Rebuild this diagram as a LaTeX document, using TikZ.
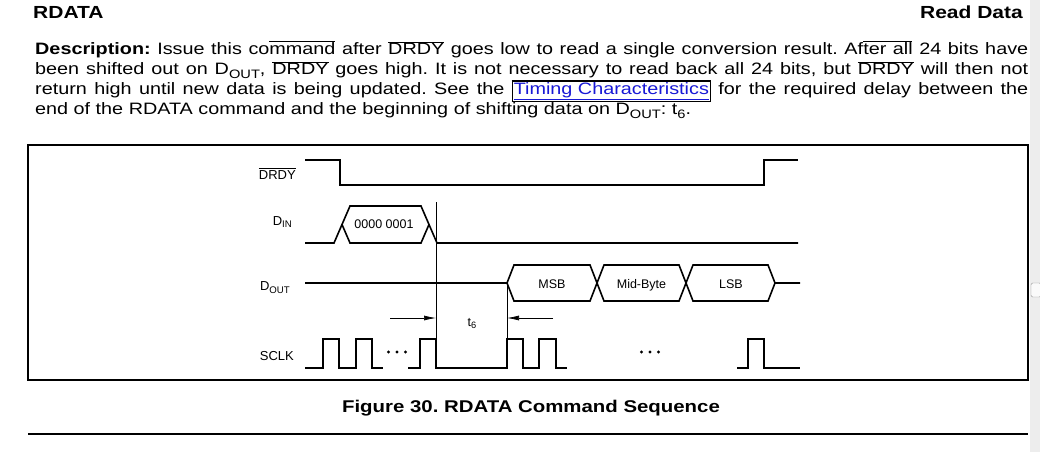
\documentclass[tikz,border=0pt]{standalone}
\usepackage{fontspec}
\setmainfont{Liberation Sans}
\newfontfamily\widesans[FakeStretch=1.2]{Liberation Sans}
\usepackage{tikz}
\usetikzlibrary{arrows.meta}
\definecolor{linkblue}{RGB}{24,24,214}
\frenchspacing
\newcommand\drdy{$\overline{\mbox{DRDY}}$}
\newcommand\lowsub[1]{\raisebox{-0.22em}{\scalebox{0.74}{#1}}}
\newlength\artw
\newcommand\artline[1]{\settowidth\artw{#1}\rlap{\rule[12.4pt]{\artw}{0.7pt}}#1}
\def\tdots(#1,#2){\fill ({#1-8.5},#2) circle (1.7); \fill (#1,#2) circle (1.7); \fill ({#1+8.5},#2) circle (1.7);}

\begin{document}
\begin{tikzpicture}[x=1pt, y=-1pt,
		sig/.style={line width=1.6pt},
		guide/.style={line width=0.6pt},
		tarrow/.style={line width=0.7pt, -{Latex[length=12pt,width=5pt]}},
		lbl/.style={anchor=base east, inner sep=0pt, font=\fontsize{13}{15}\selectfont},
		txt/.style={anchor=base, inner sep=0pt, font=\fontsize{12.5}{15}\selectfont},
		para/.style={anchor=base west, inner sep=0pt, font=\widesans\fontsize{16.5}{20}\selectfont}]
			%%%%% START %%%%%
			\useasboundingbox (0,0) rectangle (1040,452);
			\fill[white] (0,0) rectangle (1030,452);
			
			% heading
			\node[anchor=base west, inner sep=0pt, font=\widesans\bfseries\fontsize{17.5}{20}\selectfont] (head) at (33,18.3) {RDATA};
			\node[anchor=base east, inner sep=0pt, font=\widesans\bfseries\fontsize{17.5}{20}\selectfont] (headr) at (1023,18.3) {Read Data};
			
			% description
			\node[para] (desc1) at (35,54.5) {\makebox[993pt][s]{\textbf{Description:} Issue this co\artline{mmand} after \drdy{} goes low to read a single conversion result. Af\artline{ter all} 24 bits have}};
			\node[para] (desc2) at (35,74.5) {\makebox[993pt][s]{been shifted out on D\lowsub{OUT}, \drdy{} goes high. It is not necessary to read back all 24 bits, but \drdy{} will then not}};
			\node[para] (desc3) at (35,94.5) {\makebox[993pt][s]{return high until new data is being updated. See the \smash{\fboxsep=1pt\fboxrule=1.1pt\fbox{\textcolor{linkblue}{\underline{Timing Characteristics}}}} for the required delay between the}};
			\node[para] (desc4) at (35,114.5) {end of the RDATA command and the beginning of shifting data on D\lowsub{OUT}: t\lowsub{6}.};
			
			% frame
			\draw[line width=1.8pt] (28,145) rectangle (1028,380);
			
			% signal names
			\node[lbl] (ldrdy) at (296,179) {\drdy};
			\node[lbl] (ldin) at (292,225) {D\lowsub{IN}};
			\node[lbl] (ldout) at (290,290.5) {D\lowsub{OUT}};
			\node[lbl] (lsclk) at (294,360) {SCLK};
			
			% DRDY
			\draw[sig] (305,160) -- (340,160) -- (340,185) -- (764,185) -- (764,160) -- (798,160);
			
			% DIN
			\draw[sig] (305,243) -- (334,243) -- (350,206) -- (421,206) -- (437,243) -- (798,243);
			\draw[sig] (342,224.5) -- (350,243) -- (421,243) -- (429,224.5);
			\node[txt] (cmd) at (384,228.5) {0000 0001};
			
			% DOUT
			\draw[sig] (305,283) -- (507,283) -- (514,265) -- (590,265) -- (604,301) -- (679,301) -- (693,265) -- (768,265) -- (775,283) -- (800,283);
			\draw[sig] (507,283) -- (514,301) -- (590,301) -- (604,265) -- (679,265) -- (693,301) -- (768,301) -- (775,283);
			\node[txt] (msb) at (552,288) {MSB};
			\node[txt] (mid) at (641.5,288) {Mid-Byte};
			\node[txt] (lsb) at (731,288) {LSB};
			
			% t6
			\coordinate (cmdend) at (436,202);
			\coordinate (msbstart) at (507,283);
			\coordinate (t6l) at (390,318);
			\coordinate (t6r) at (553,318);
			\draw[guide] (cmdend) -- (cmdend |- 0,339);
			\draw[guide] (msbstart) -- (msbstart |- 0,339);
			\draw[tarrow] (t6l) -- (cmdend |- t6l);
			\draw[tarrow] (t6r) -- (msbstart |- t6r);
			\node[txt] (t6) at (472,326) {t\lowsub{6}};
			
			% SCLK
			\draw[sig] (305,368) -- (323,368) -- (323,339) -- (339,339) -- (339,368) -- (356,368) -- (356,339) -- (372,339) -- (372,368) -- (383,368);
			\tdots(397,352)
			\draw[sig] (408,368) -- (420,368) -- (420,339) -- (436,339) -- (436,368) -- (507,368) -- (507,339) -- (523,339) -- (523,368) -- (539,368) -- (539,339) -- (556,339) -- (556,368) -- (567,368);
			\tdots(650,352)
			\draw[sig] (737,368) -- (748,368) -- (748,339) -- (764,339) -- (764,368) -- (800,368);
			
			% caption
			\node[anchor=base, inner sep=0pt, font=\widesans\bfseries\fontsize{17}{20}\selectfont] (cap) at (531,412.5) {Figure 30. RDATA Command Sequence};
			\draw[line width=1.4pt] (28,434) -- (1028,434);
			
			% scroll bar
			\fill[black!7] (1030,0) rectangle (1040,452);
			\draw[black!40, fill=black!2, rounded corners=1.5pt] (1031,283) rectangle (1041,297);
			%%%%% END %%%%%
		\end{tikzpicture}
\end{document}
